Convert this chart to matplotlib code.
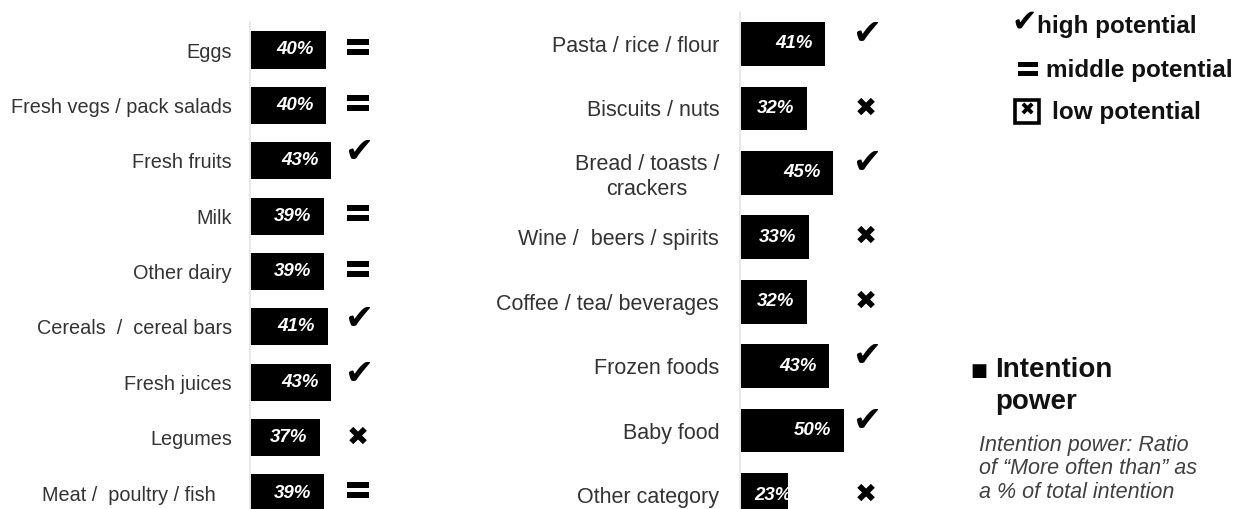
import matplotlib
matplotlib.use("Agg")
import matplotlib.pyplot as plt
from matplotlib.path import Path
from matplotlib.patches import Rectangle
from matplotlib.lines import Line2D
import matplotlib.transforms as mtransforms

plt.rcParams['font.family'] = ['Liberation Sans', 'DejaVu Sans']

# ---------------- data ----------------
left_categories = ["Eggs", "Fresh vegs / pack salads", "Fresh fruits", "Milk",
                   "Other dairy", "Cereals  /  cereal bars", "Fresh juices",
                   "Legumes", "Meat /  poultry / fish   "]
left_values = [40, 40, 43, 39, 39, 41, 43, 37, 39]
left_potential = ["mid", "mid", "high", "mid", "mid", "high", "high", "low", "mid"]

right_categories = ["Pasta / rice / flour", "Biscuits / nuts", "Bread / toasts /\ncrackers",
                    "Wine /  beers / spirits", "Coffee / tea/ beverages", "Frozen foods",
                    "Baby food", "Other category"]
right_values = [41, 32, 45, 33, 32, 43, 50, 23]
right_potential = ["high", "low", "high", "low", "low", "high", "high", "low"]

legend_labels = ["high potential", "middle potential", "low potential"]
series_title = "Intention\npower"
note_text = "Intention power: Ratio\nof \u201cMore often than\u201d as\na % of total intention"

# ---------------- figure ----------------
W, H = 1241, 509
fig = plt.figure(figsize=(W / 100, H / 100), dpi=100)

# equals-sign marker (two thick bars)
eq_path = Path(
    [(-1, 0.16), (1, 0.16), (1, 0.76), (-1, 0.76), (-1, 0.16),
     (-1, -0.76), (1, -0.76), (1, -0.16), (-1, -0.16), (-1, -0.76)],
    [Path.MOVETO, Path.LINETO, Path.LINETO, Path.LINETO, Path.CLOSEPOLY,
     Path.MOVETO, Path.LINETO, Path.LINETO, Path.LINETO, Path.CLOSEPOLY])


def panel(left_px, top_px, width_px, px_per_unit, row0_px, step_px, bar_h,
          cats, vals, pots, label_size, label_pad, sym_x):
    ax = fig.add_axes([left_px / W, 0, width_px / W, (H - top_px) / H])
    n = len(cats)
    ax.set_xlim(0, width_px / px_per_unit)
    ax.set_ylim((H - row0_px) / step_px, (top_px - row0_px) / step_px)
    bars = ax.barh(range(n), vals, height=bar_h, color='black', left=0.3)
    ax.set_yticks(range(n))
    ax.set_yticklabels(cats, fontsize=label_size, color='#333333')
    for t in ax.get_yticklabels():
        t.set_multialignment('center')
    ax.tick_params(axis='y', length=0, pad=label_pad)
    ax.set_xticks([])
    for s in ['top', 'right', 'bottom']:
        ax.spines[s].set_visible(False)
    ax.spines['left'].set_color('#e4e4e4')
    ax.spines['left'].set_linewidth(1.2)

    # value labels inside bars (clipped to the bar)
    for i, (v, b) in enumerate(zip(vals, bars)):
        xr = max(v - 12 / px_per_unit, 52 / px_per_unit)
        t = ax.text(xr, i, f"{v}%", ha='right', va='center', color='white',
                    fontsize=13.5, fontweight='bold', fontstyle='italic')
        t.set_clip_path(b)

    # potential symbols
    trans = mtransforms.blended_transform_factory(ax.transAxes, ax.transData)
    for i, p in enumerate(pots):
        if p == 'high':
            ax.text(sym_x + 0.01, i - 0.15, "\u2714", transform=trans, ha='center', va='center',
                    fontsize=25, family='DejaVu Sans', color='black', clip_on=False)
        elif p == 'low':
            ax.text(sym_x, i, "\u2716", transform=trans, ha='center', va='center',
                    fontsize=19, family='DejaVu Sans', color='black', clip_on=False)
        else:
            ax.plot([sym_x], [i - 0.05], transform=trans, marker=eq_path,
                    markersize=15.5, markeredgewidth=0, color='black',
                    linestyle='none', clip_on=False)
    return ax


panel(250, 22, 200, 1.88, 50, 55.375, 0.67,
      left_categories, left_values, left_potential, 14.3, 13, 0.54)
panel(740, 12, 200, 2.06, 44, 64.43, 0.68,
      right_categories, right_values, right_potential, 15.5, 15, 0.63)

# ---------------- legend ----------------
def fx(px):
    return px / W


def fy(py):
    return 1 - py / H


fig.text(fx(1024), fy(22), "\u2714", ha='center', va='center', fontsize=22,
         family='DejaVu Sans', color='black')
fig.text(fx(1037), fy(27), legend_labels[0], ha='left', va='center',
         fontsize=17.5, fontweight='bold', color='#111111')
fig.add_artist(Line2D([fx(1028)], [fy(69)], transform=fig.transFigure, marker=eq_path,
                      markersize=14, markeredgewidth=0, color='black', linestyle='none'))
fig.text(fx(1046), fy(70), legend_labels[1], ha='left', va='center',
         fontsize=17.5, fontweight='bold', color='#111111')
fig.add_artist(Rectangle((fx(1015), fy(123)), fx(24), 23 / H, transform=fig.transFigure,
                         fill=False, edgecolor='black', linewidth=2.6))
fig.text(fx(1027), fy(111), "\u2716", ha='center', va='center', fontsize=13,
         family='DejaVu Sans', color='black')
fig.text(fx(1052), fy(113), legend_labels[2], ha='left', va='center',
         fontsize=17.5, fontweight='bold', color='#111111')

fig.text(fx(979), fy(371), "\u25a0", ha='center', va='center', fontsize=13,
         family='DejaVu Sans', color='black')
fig.text(fx(995), fy(357), series_title, ha='left', va='top', fontsize=20,
         fontweight='bold', color='#111111', linespacing=1.3)
fig.text(fx(979), fy(435), note_text, ha='left', va='top', fontsize=15.5,
         fontstyle='italic', color='#404040', linespacing=1.15)

fig.savefig("out.png", dpi=100)
